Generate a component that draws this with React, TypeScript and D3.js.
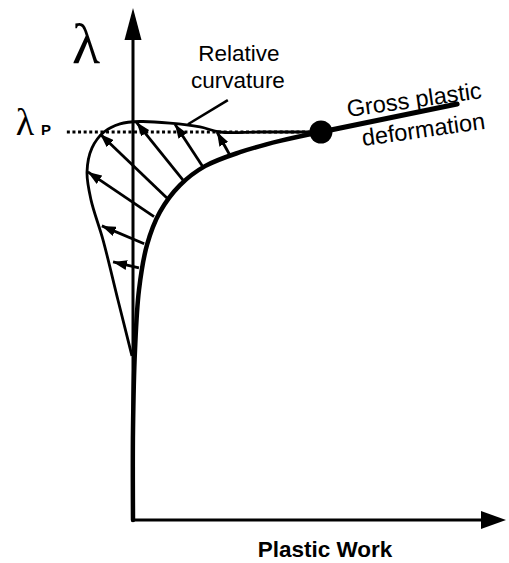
import * as d3 from 'd3';

const W = 509, H = 563;

// plastic work on x, load factor λ on y (λ_P = 1)
const mainX = [0, 0, 0.057, 0.171, 0.4, 0.771, 1.343, 2.057, 3.057, 4.2, 5.37];
const mainY = [0, 0.232, 0.438, 0.593, 0.709, 0.794, 0.863, 0.912, 0.948, 0.977, 1.0];

// relative curvature envelope
const envX = [-0.03, -0.43, -0.857, -1.2, -1.314, -1.171, -0.829, -0.371, 0.2, 1.057, 1.914, 2.486, 3.629, 5.37];
const envY = [0.423, 0.567, 0.722, 0.825, 0.897, 0.959, 1.0, 1.021, 1.027, 1.023, 1.013, 1.0, 1.0, 1.0];

// arrows: base on the curve -> tip on the envelope
const arrowFromX = [0.17, 0.32, 0.6, 0.97, 1.43, 2.0, 2.77];
const arrowFromY = [0.65, 0.712, 0.782, 0.83, 0.876, 0.91, 0.94];
const arrowToX = [-0.57, -0.89, -1.29, -0.94, 0.1, 1.2, 2.4];
const arrowToY = [0.665, 0.758, 0.897, 0.995, 1.025, 1.02, 1.0];

const limitPoint = [5.37, 1.0];
const grossEnd = [9.26, 1.072];
const lambdaP = 1.0;
const dashStart = -1.89;
const leader = [[2.71, 1.082], [1.57, 1.02]];

const x = d3.scaleLinear().domain([0, 10]).range([133, 483]);
const y = d3.scaleLinear().domain([0, 1]).range([520, 132]);

const line = d3.line<[number, number]>()
    .x(d => x(d[0]))
    .y(d => y(d[1]))
    .curve(d3.curveCatmullRom.alpha(0.5));

const zip = (a: number[], b: number[]) => a.map((v, i) => [v, b[i]] as [number, number]);

export default function App() {
    const sans = "'Liberation Sans', Arial, Helvetica, sans-serif";
    const serif = "'Liberation Serif', 'Times New Roman', serif";
    return (
        <svg width={W} height={H} style={{ position: 'absolute', left: 0, top: 0, background: '#fff' }}>
            <defs>
                <marker id="ah" markerUnits="userSpaceOnUse" markerWidth="15" markerHeight="10"
                    refX="14" refY="5" orient="auto">
                    <path d="M0,0 L14,5 L0,10 Z" fill="#000" />
                </marker>
            </defs>

            {/* axes */}
            <line x1={x(0)} y1={y(0)} x2={x(0)} y2={36} stroke="#000" strokeWidth={3} />
            <path d={`M${x(0)},8 L${x(0) + 8.5},40 L${x(0) - 8.5},40 Z`} fill="#000" />
            <line x1={x(0) - 1.5} y1={y(0)} x2={484} y2={y(0)} stroke="#000" strokeWidth={3} />
            <path d={`M506,${y(0)} L481,${y(0) - 9} L481,${y(0) + 9} Z`} fill="#000" />

            {/* lambda_P dotted line */}
            <line x1={x(dashStart)} y1={y(lambdaP)} x2={x(limitPoint[0])} y2={y(lambdaP)}
                stroke="#000" strokeWidth={3} strokeDasharray="3,2.6" />

            {/* envelope */}
            <path d={line(zip(envX, envY)) || ''} fill="none" stroke="#000" strokeWidth={2.8} />

            {/* arrows */}
            {arrowFromX.map((v, i) => (
                <line key={i} x1={x(v)} y1={y(arrowFromY[i])} x2={x(arrowToX[i])} y2={y(arrowToY[i])}
                    stroke="#000" strokeWidth={2.8} markerEnd="url(#ah)" />
            ))}

            {/* main curve */}
            <path d={line(zip(mainX, mainY)) || ''} fill="none" stroke="#000" strokeWidth={4.5} strokeLinecap="round" />
            <line x1={x(limitPoint[0])} y1={y(limitPoint[1])} x2={x(grossEnd[0])} y2={y(grossEnd[1])}
                stroke="#000" strokeWidth={5} strokeLinecap="round" />
            <circle cx={x(limitPoint[0])} cy={y(limitPoint[1])} r={11.5} fill="#000" />

            {/* leader */}
            <line x1={x(leader[0][0])} y1={y(leader[0][1])} x2={x(leader[1][0])} y2={y(leader[1][1])}
                stroke="#000" strokeWidth={2.6} />

            {/* labels */}
            <text x={239} y={61} textAnchor="middle" fontFamily={sans} fontSize={22.5}>Relative</text>
            <text x={238} y={88} textAnchor="middle" fontFamily={sans} fontSize={22.5}>curvature</text>
            <text transform="translate(348,117) rotate(-8)" fontFamily={sans} fontSize={23.5}>Gross plastic</text>
            <text transform="translate(363,146) rotate(-8)" fontFamily={sans} fontSize={23.5}>deformation</text>
            <text x={325} y={557} textAnchor="middle" fontFamily={sans} fontSize={22.5} fontWeight="bold">Plastic Work</text>

            <text x={86} y={63} textAnchor="middle" fontFamily={serif} fontSize={58}>λ</text>
            <text x={25} y={135} textAnchor="middle" fontFamily={serif} fontSize={38}>λ</text>
            <text x={41} y={135} fontFamily={sans} fontSize={15} fontWeight="bold">P</text>
        </svg>
    );
}
